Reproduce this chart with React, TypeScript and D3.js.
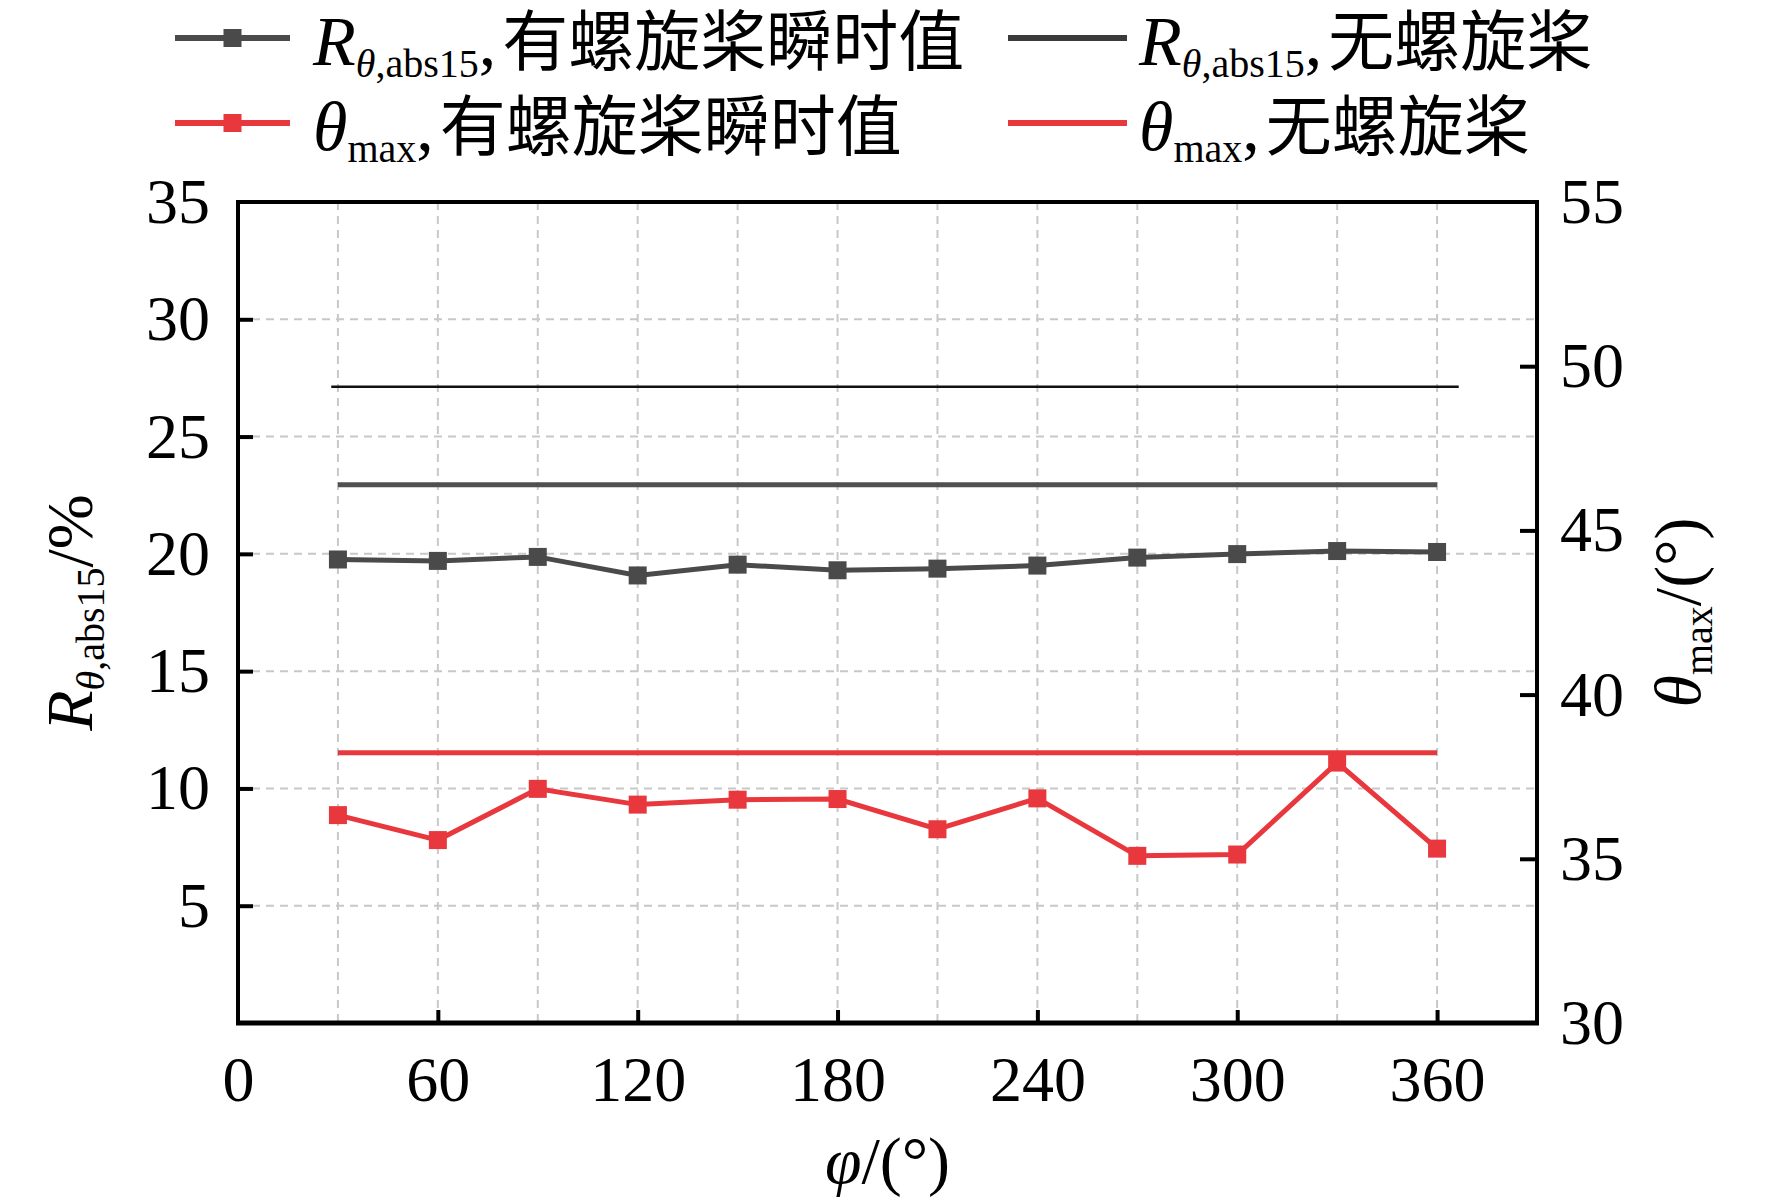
import React, { useEffect, useRef } from 'react'
import * as d3 from 'd3'

// phase angle of the propeller, deg
const angles = [30, 60, 90, 120, 150, 180, 210, 240, 270, 300, 330, 360]
// R_theta,abs15 (%) with propeller, instantaneous
const rWithProp = [19.76, 19.7, 19.87, 19.08, 19.54, 19.3, 19.37, 19.5, 19.84, 19.99, 20.12, 20.08]
// theta_max (deg) with propeller, instantaneous
const thetaWithProp = [36.33, 35.57, 37.13, 36.65, 36.8, 36.82, 35.9, 36.84, 35.09, 35.13, 37.93, 35.31]
// values without propeller (flat reference lines)
const rNoProp = 22.95
const thetaNoProp = 38.23
// extra thin reference line (left axis), and its angle span
const thinRef = 27.12
const thinRefSpan = [28, 366.5]

const xTicks = [0, 60, 120, 180, 240, 300, 360]
const xGrid = [30, 60, 90, 120, 150, 180, 210, 240, 270, 300, 330, 360]
const leftTicks = [5, 10, 15, 20, 25, 30, 35]
const rightTicks = [30, 35, 40, 45, 50, 55]

const width = 1772
const height = 1200
const serif = '"Liberation Serif", "Times New Roman", serif'
const cjk = '"Noto Sans CJK SC", sans-serif'
const gray = '#4a4a4a'
const red = '#e8383d'

const App: React.FC = () => {
  const ref = useRef<SVGSVGElement>(null)

  useEffect(() => {
    if (!ref.current) return
    const svg = d3.select(ref.current)
    svg.selectAll('*').remove()

    const left = 238, right = 1537, top = 202, bottom = 1023

    const x = d3.scaleLinear().domain([0, 390]).range([left, right])
    const yL = d3.scaleLinear().domain([0, 35]).range([bottom, top])
    const yR = d3.scaleLinear().domain([30, 55]).range([bottom, top])

    // grid
    const grid = svg.append('g')
      .attr('stroke', '#c8c8c8')
      .attr('stroke-width', 2)
      .attr('stroke-dasharray', '8,6')
    grid.selectAll('.vg').data(xGrid).enter().append('line')
      .attr('x1', d => x(d)).attr('x2', d => x(d))
      .attr('y1', top).attr('y2', bottom)
    grid.selectAll('.hg').data(leftTicks.filter(d => d < 35)).enter().append('line')
      .attr('x1', left).attr('x2', right)
      .attr('y1', d => yL(d)).attr('y2', d => yL(d))

    // flat reference lines
    svg.append('line')
      .attr('x1', x(thinRefSpan[0])).attr('x2', x(thinRefSpan[1]))
      .attr('y1', yL(thinRef)).attr('y2', yL(thinRef))
      .attr('stroke', '#111').attr('stroke-width', 2.5)
    svg.append('line')
      .attr('x1', x(angles[0])).attr('x2', x(angles[angles.length - 1]))
      .attr('y1', yL(rNoProp)).attr('y2', yL(rNoProp))
      .attr('stroke', '#505050').attr('stroke-width', 5)
    svg.append('line')
      .attr('x1', x(angles[0])).attr('x2', x(angles[angles.length - 1]))
      .attr('y1', yR(thetaNoProp)).attr('y2', yR(thetaNoProp))
      .attr('stroke', red).attr('stroke-width', 5)

    // series with propeller
    const series = [
      { values: rWithProp, y: yL, color: gray },
      { values: thetaWithProp, y: yR, color: red },
    ]
    series.forEach(s => {
      const line = d3.line<number>()
        .x((_, i) => x(angles[i]))
        .y(d => s.y(d))
      svg.append('path')
        .datum(s.values)
        .attr('d', line)
        .attr('fill', 'none')
        .attr('stroke', s.color)
        .attr('stroke-width', 5)
      const m = 18
      svg.append('g').selectAll('rect').data(s.values).enter().append('rect')
        .attr('x', (_, i) => x(angles[i]) - m / 2)
        .attr('y', d => s.y(d) - m / 2)
        .attr('width', m).attr('height', m)
        .attr('fill', s.color)
    })

    // frame
    svg.append('path')
      .attr('d', `M${left},${bottom}V${top}H${right}V${bottom}`)
      .attr('fill', 'none').attr('stroke', '#000').attr('stroke-width', 4)
    svg.append('line')
      .attr('x1', left - 2).attr('x2', right + 2)
      .attr('y1', bottom).attr('y2', bottom)
      .attr('stroke', '#000').attr('stroke-width', 5)

    // axes
    const styleAxis = (g: d3.Selection<SVGGElement, unknown, null, undefined>) => {
      g.select('.domain').remove()
      g.selectAll('line').attr('stroke', '#000').attr('stroke-width', 4)
      g.selectAll('text')
        .attr('font-family', serif)
        .attr('font-size', 64)
        .attr('fill', '#000')
    }

    const gx = svg.append('g')
      .attr('transform', `translate(0,${bottom})`)
      .call(d3.axisBottom(x).tickValues(xTicks).tickSize(-13).tickPadding(33).tickFormat(d3.format('d')))
    styleAxis(gx)
    gx.selectAll('.tick').filter(d => d === 0).select('line').remove()

    const gl = svg.append('g')
      .attr('transform', `translate(${left},0)`)
      .call(d3.axisLeft(yL).tickValues(leftTicks).tickSize(-15).tickPadding(28).tickFormat(d3.format('d')))
    styleAxis(gl)
    gl.selectAll('.tick').filter(d => d === 35).select('line').remove()

    const gr = svg.append('g')
      .attr('transform', `translate(${right},0)`)
      .call(d3.axisRight(yR).tickValues(rightTicks).tickSize(-17).tickPadding(23).tickFormat(d3.format('d')))
    styleAxis(gr)
    gr.selectAll('.tick').filter(d => d === 30 || d === 55).select('line').remove()

    // axis titles
    const xt = svg.append('text')
      .attr('x', (left + right) / 2).attr('y', 1183)
      .attr('text-anchor', 'middle')
      .attr('font-family', serif).attr('font-size', 66)
    xt.append('tspan').attr('font-style', 'italic').text('φ')
    xt.append('tspan').text('/(°)')

    const lt = svg.append('text')
      .attr('transform', `translate(92,${(top + bottom) / 2}) rotate(-90)`)
      .attr('text-anchor', 'middle')
      .attr('font-family', serif).attr('font-size', 66)
    lt.append('tspan').attr('font-style', 'italic').text('R')
    const lsub = lt.append('tspan').attr('font-size', 40).attr('dy', 12)
    lsub.append('tspan').attr('font-style', 'italic').text('θ')
    lsub.append('tspan').text(',abs15')
    lt.append('tspan').attr('dy', -12).text('/%')

    const rt = svg.append('text')
      .attr('transform', `translate(1700,${(top + bottom) / 2}) rotate(-90)`)
      .attr('text-anchor', 'middle')
      .attr('font-family', serif).attr('font-size', 66)
    rt.append('tspan').attr('font-style', 'italic').text('θ')
    rt.append('tspan').attr('font-size', 40).attr('dy', 12).text('max')
    rt.append('tspan').attr('dy', -12).text('/(°)')

    // legend
    const legend = [
      { sym: 'R', sub: ['θ', ',abs15'], label: '有螺旋桨瞬时值', color: gray, marker: true, x: 175, y: 38 },
      { sym: 'R', sub: ['θ', ',abs15'], label: '无螺旋桨', color: '#3a3a3a', marker: false, x: 1008, y: 38 },
      { sym: 'θ', sub: ['', 'max'], label: '有螺旋桨瞬时值', color: red, marker: true, x: 175, y: 123 },
      { sym: 'θ', sub: ['', 'max'], label: '无螺旋桨', color: red, marker: false, x: 1008, y: 123 },
    ]
    legend.forEach(l => {
      const lw = l.marker ? 115 : 119
      svg.append('line')
        .attr('x1', l.x).attr('x2', l.x + lw)
        .attr('y1', l.y).attr('y2', l.y)
        .attr('stroke', l.color).attr('stroke-width', 6)
      if (l.marker) {
        svg.append('rect')
          .attr('x', l.x + lw / 2 - 9).attr('y', l.y - 9)
          .attr('width', 18).attr('height', 18)
          .attr('fill', l.color)
      }
      const t = svg.append('text')
        .attr('x', l.x + lw + (l.marker ? 23 : 12)).attr('y', l.y + 27)
        .attr('font-family', serif).attr('font-size', 70)
      t.append('tspan').attr('font-style', 'italic').text(l.sym)
      const sub = t.append('tspan').attr('font-size', 40).attr('dy', 12)
      if (l.sub[0]) sub.append('tspan').attr('font-style', 'italic').text(l.sub[0])
      sub.append('tspan').text(l.sub[1])
      t.append('tspan').attr('dy', -12).text(',')
      t.append('tspan').attr('font-family', cjk).attr('font-size', 66).attr('dx', 6).text(l.label)
    })
  }, [])

  return (
    <svg
      ref={ref}
      width={width}
      height={height}
      style={{ position: 'absolute', left: 0, top: 0, background: '#fff' }}
    />
  )
}

export default App
